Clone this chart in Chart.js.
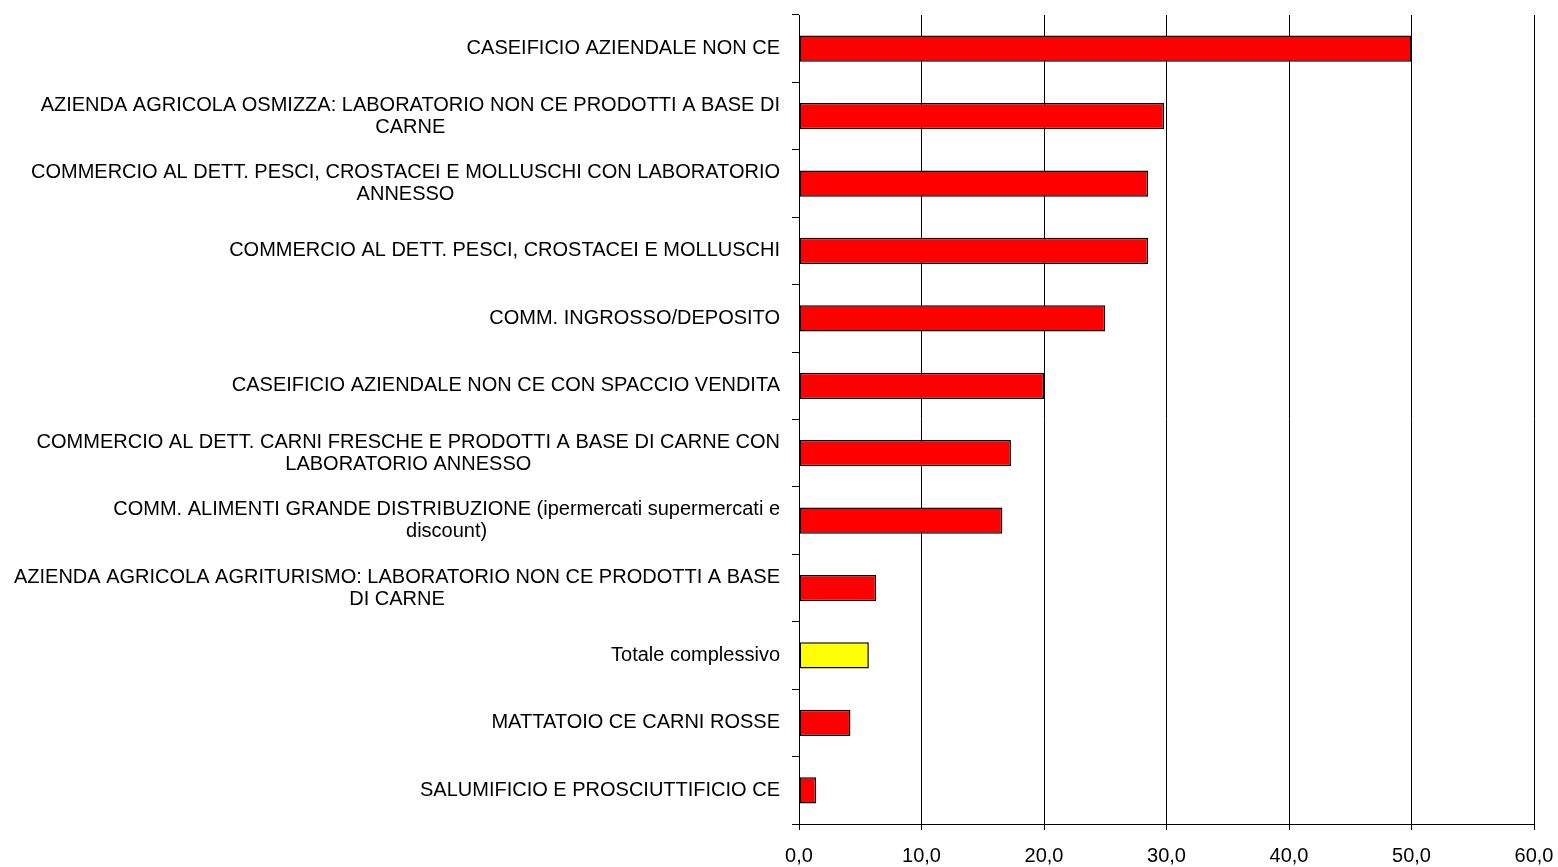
<!DOCTYPE html>
<html>
<head>
<meta charset="utf-8">
<script src="https://cdn.jsdelivr.net/npm/chart.js@4/dist/chart.umd.min.js"></script>
<style>
html,body{margin:0;padding:0;background:#fff;}
#wrap{width:1558px;height:867px;position:relative;}
</style>
</head>
<body>
<div id="wrap"><canvas id="c" width="1558" height="867"></canvas></div>
<script>
const categories = [
  ["CASEIFICIO AZIENDALE NON CE"],
  ["AZIENDA AGRICOLA OSMIZZA: LABORATORIO NON CE PRODOTTI A BASE DI", "CARNE"],
  ["COMMERCIO AL DETT. PESCI, CROSTACEI E MOLLUSCHI CON LABORATORIO", "ANNESSO"],
  ["COMMERCIO AL DETT. PESCI, CROSTACEI E MOLLUSCHI"],
  ["COMM. INGROSSO/DEPOSITO"],
  ["CASEIFICIO AZIENDALE NON CE CON SPACCIO VENDITA"],
  ["COMMERCIO AL DETT. CARNI FRESCHE E PRODOTTI A BASE DI CARNE CON", "LABORATORIO ANNESSO"],
  ["COMM. ALIMENTI GRANDE DISTRIBUZIONE (ipermercati supermercati e", "discount)"],
  ["AZIENDA AGRICOLA AGRITURISMO: LABORATORIO NON CE PRODOTTI A BASE", "DI CARNE"],
  ["Totale complessivo"],
  ["MATTATOIO CE CARNI ROSSE"],
  ["SALUMIFICIO E PROSCIUTTIFICIO CE"]
];
const values = [50.0, 29.8, 28.5, 28.5, 25.0, 20.0, 17.3, 16.6, 6.3, 5.7, 4.2, 1.4];
const barColors = ["#FF0000","#FF0000","#FF0000","#FF0000","#FF0000","#FF0000","#FF0000","#FF0000","#FF0000","#FFFF00","#FF0000","#FF0000"];
const xMin = 0, xMax = 60, xStep = 10;

const FONT = '"Liberation Sans", Arial, sans-serif';
const labelPlugin = {
  id: 'catLabels',
  afterDraw(chart) {
    const ctx = chart.ctx;
    const y = chart.scales.y;
    const right = y.right - 19;
    ctx.save();
    ctx.font = '20px ' + FONT;
    ctx.fillStyle = '#000';
    ctx.textAlign = 'center';
    ctx.textBaseline = 'middle';
    const lh = 22;
    categories.forEach((lines, i) => {
      const cy = y.getPixelForValue(i);
      let widest = 0;
      lines.forEach(l => { widest = Math.max(widest, ctx.measureText(l).width); });
      const cx = right - widest / 2;
      const y0 = cy - (lines.length - 1) * lh / 2;
      lines.forEach((l, k) => ctx.fillText(l, cx, y0 + k * lh));
    });
    ctx.restore();
  }
};

new Chart(document.getElementById('c'), {
  type: 'bar',
  data: {
    labels: categories,
    datasets: [{
      data: values,
      backgroundColor: barColors,
      borderColor: '#000',
      borderWidth: 1.5,
      borderSkipped: false,
      barPercentage: 0.39,
      categoryPercentage: 1.0
    }]
  },
  options: {
    indexAxis: 'y',
    responsive: false,
    animation: false,
    devicePixelRatio: 1,
    layout: { padding: { left: 0, top: 15, right: 24, bottom: 0 } },
    plugins: { legend: { display: false }, tooltip: { enabled: false } },
    scales: {
      x: {
        min: xMin, max: xMax,
        ticks: {
          stepSize: xStep,
          font: { size: 20, family: FONT },
          color: '#000',
          padding: 14,
          maxRotation: 0,
          callback: v => v.toFixed(1).replace('.', ',')
        },
        grid: { color: '#000', lineWidth: 1, tickLength: 6, drawTicks: true },
        border: { color: '#000', width: 1 },
        afterFit: s => { s.height = 43; s.paddingLeft = 0; s.paddingRight = 0; }
      },
      y: {
        offset: true,
        ticks: { display: false },
        grid: { offset: true, drawOnChartArea: false, color: '#000', tickLength: 7, drawTicks: true },
        border: { color: '#000', width: 1 },
        afterFit: s => { s.width = 799; }
      }
    }
  },
  plugins: [labelPlugin]
});
</script>
</body>
</html>
